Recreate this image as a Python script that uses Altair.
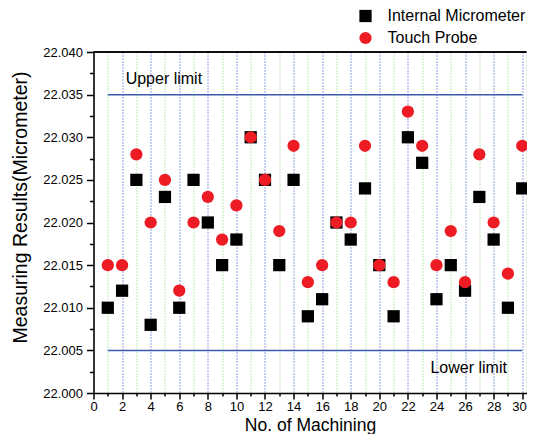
import altair as alt
import pandas as pd

machining = list(range(1, 31))
internal_micrometer = [22.010, 22.012, 22.025, 22.008, 22.023, 22.010, 22.025, 22.020, 22.015, 22.018,
                       22.030, 22.025, 22.015, 22.025, 22.009, 22.011, 22.020, 22.018, 22.024, 22.015,
                       22.009, 22.030, 22.027, 22.011, 22.015, 22.012, 22.023, 22.018, 22.010, 22.024]
touch_probe = [22.015, 22.015, 22.028, 22.020, 22.025, 22.012, 22.020, 22.023, 22.018, 22.022,
               22.030, 22.025, 22.019, 22.029, 22.013, 22.015, 22.020, 22.020, 22.029, 22.015,
               22.013, 22.033, 22.029, 22.015, 22.019, 22.013, 22.028, 22.020, 22.014, 22.029]
series_names = ["Internal Micrometer", "Touch Probe"]
series_colors = ["#000000", "#ed1c24"]
series_shapes = ["square", "circle"]

x_ticks = list(range(0, 31))
y_ticks = [22.000, 22.0025, 22.005, 22.0075, 22.010, 22.0125, 22.015, 22.0175, 22.020,
           22.0225, 22.025, 22.0275, 22.030, 22.0325, 22.035, 22.0375, 22.040]

limit_names = ["Upper limit", "Lower limit"]
limit_values = [22.035, 22.005]
limit_start = [1, 1]
limit_end = [30, 30]
label_x = [2.25, 23.58]
label_y = [22.0362, 22.0023]

FONT = "Liberation Sans"
W, H = 433, 341

rows = []
for i, m in enumerate(machining):
    rows.append({"No": m, "Value": internal_micrometer[i], "Series": series_names[0]})
    rows.append({"No": m, "Value": touch_probe[i], "Series": series_names[1]})
df = pd.DataFrame(rows)

lim_df = pd.DataFrame({"name": limit_names, "v": limit_values, "x1": limit_start, "x2": limit_end,
                       "lx": label_x, "ly": label_y})

xscale = alt.Scale(domain=[0, 30.3], nice=False, zero=False)
yscale = alt.Scale(domain=[22.000, 22.040], nice=False, zero=False)

x_axis = alt.Axis(
    values=x_ticks, title="No. of Machining", labelOverlap=False,
    labelExpr="datum.value % 2 == 0 ? datum.label : ''",
    labelAlign={"expr": "datum.value == 30 ? 'right' : 'center'"},
    labelOffset={"expr": "datum.value == 30 ? 4 : 0"},
    tickSize={"expr": "datum.value % 2 == 0 ? 6 : 3"},
    grid=True, gridColor={"expr": "datum.value % 2 == 0 ? '#2444c0' : '#7ed36e'"},
    gridDash=[1, 2], gridWidth=1,
    labelFont=FONT, labelFontSize=13, labelPadding=1, labelColor="#000",
    titleFont=FONT, titleFontSize=17.5, titleFontWeight="normal", titleColor="#000",
    titleBaseline="alphabetic", titleY=37.5,
    domainColor="#000", domainWidth=1.5, tickColor="#000", tickWidth=1.5,
)
y_axis = alt.Axis(
    values=y_ticks, title="Measuring Results(Micrometer)", labelOverlap=False,
    labelExpr="round(datum.value * 10000) % 50 == 0 ? format(datum.value, '.3f') : ''",
    tickSize={"expr": "round(datum.value * 10000) % 50 == 0 ? 7 : 4"},
    grid=False,
    labelFont=FONT, labelFontSize=13, labelPadding=4, labelColor="#000",
    titleFont=FONT, titleFontSize=19.5, titleFontWeight="normal", titleColor="#000", titlePadding=12,
    titleY=155,
    domainColor="#000", domainWidth=1.5, tickColor="#000", tickWidth=1.5,
)

legend = alt.Legend(title=None, orient="none", legendX=264, legendY=-44,
                    labelFont=FONT, labelFontSize=16, labelColor="#000",
                    symbolSize=150, labelOffset=14, rowPadding=6, padding=0,
                    symbolStrokeWidth=0, labelLimit=300)

points = alt.Chart(df).mark_point(filled=True, opacity=1, size=150).encode(
    x=alt.X("No:Q", scale=xscale, axis=x_axis),
    y=alt.Y("Value:Q", scale=yscale, axis=y_axis),
    color=alt.Color("Series:N", scale=alt.Scale(domain=series_names, range=series_colors), legend=legend),
    shape=alt.Shape("Series:N", scale=alt.Scale(domain=series_names, range=series_shapes), legend=legend),
)

limits = alt.Chart(lim_df).mark_rule(color="#3a5bb0", strokeWidth=1.5).encode(
    x=alt.X("x1:Q", scale=xscale, axis=x_axis),
    x2="x2:Q",
    y=alt.Y("v:Q", scale=yscale, axis=y_axis),
)

limit_text = alt.Chart(lim_df).mark_text(align="left", baseline="alphabetic", font=FONT,
                                          fontSize=16, color="#000").encode(
    x=alt.X("lx:Q", scale=xscale, axis=x_axis),
    y=alt.Y("ly:Q", scale=yscale, axis=y_axis),
    text="name:N",
)

top_border = alt.Chart(lim_df).mark_rule(color="#000", strokeWidth=1.5).encode(
    x=alt.value(0), x2=alt.value(W), y=alt.value(0)
)

chart = alt.layer(limits, limit_text, points, top_border).properties(
    width=W, height=H,
    autosize=alt.AutoSizeParams(type="none"),
    padding={"left": 85.5, "top": 44, "right": 0, "bottom": 41},
).configure_view(stroke=None).configure(background="white")

chart.save("out.html", embed_options={"renderer": "svg", "actions": False})
